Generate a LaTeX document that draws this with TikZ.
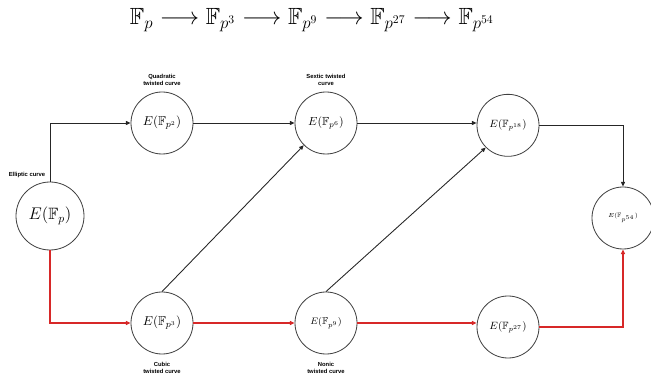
\documentclass[tikz,border=0pt]{standalone}
\usepackage{amssymb}
\usepackage{fontspec}
\setsansfont{Liberation Sans}
\usetikzlibrary{arrows.meta, positioning}

\definecolor{rougelien}{RGB}{215,40,40}

\begin{document}
\begin{tikzpicture}[
  font=\sffamily,
  etat/.style={
    circle,
    draw=black!75,
    line width=0.7pt,
    minimum size=1.86cm,
    inner sep=0pt
  },
  legende/.style={
    font=\sffamily\bfseries\fontsize{5}{6}\selectfont,
    text=black,
    align=center
  },
  lien/.style={
    -{Triangle[length=1.4mm, width=1.2mm]},
    line width=0.75pt,
    draw=black!85
  },
  lienrouge/.style={
    lien,
    line width=0.9pt,
    draw=rougelien
  }
]
\useasboundingbox (0,0) rectangle (19.53,11.31);

% Tour des corps
\node (tour) at (9.36, 10.71) {\fontsize{20}{24}\selectfont
  $\mathbb{F}_p \longrightarrow \mathbb{F}_{p^3} \longrightarrow \mathbb{F}_{p^9}
   \longrightarrow \mathbb{F}_{p^{27}} \longrightarrow \mathbb{F}_{p^{54}}$};

% Courbes
\node[etat, minimum size=2.04cm] (ep) at (1.50, 4.83)
  {\fontsize{14}{16}\selectfont $E(\mathbb{F}_p)$};
\node[etat] (quad) at (4.86, 7.62) {\fontsize{11}{13}\selectfont $E(\mathbb{F}_{p^2})$};
\node[etat] (sext) at (9.78, 7.62) {\fontsize{10}{12}\selectfont $E(\mathbb{F}_{p^6})$};
\node[etat] (e18) at (15.24, 7.55) {\fontsize{9}{11}\selectfont $E(\mathbb{F}_{p^{18}})$};
\node[etat] (e54) at (18.69, 4.77) {\fontsize{5.5}{7}\selectfont $E(\mathbb{F}_{p^{54}})$};
\node[etat] (cubic) at (4.86, 1.62) {\fontsize{11}{13}\selectfont $E(\mathbb{F}_{p^3})$};
\node[etat] (nonic) at (9.78, 1.62) {\fontsize{8.5}{10}\selectfont $E(\mathbb{F}_{p^9})$};
\node[etat] (e27) at (15.24, 1.50) {\fontsize{9}{11}\selectfont $E(\mathbb{F}_{p^{27}})$};

% Légendes
\node[legende] (lellip) at (0.81, 6.06) {Elliptic curve};
\node[legende, above=0.07cm of quad] (lquad) {Quadratic\\twisted curve};
\node[legende, above=0.07cm of sext] (lsext) {Sextic twisted\\curve};
\node[legende, below=0.12cm of cubic] (lcubic) {Cubic\\twisted curve};
\node[legende, below=0.12cm of nonic] (lnonic) {Nonic\\twisted curve};

% Branche haute
\draw[lien] (ep.north) |- (quad.west);
\draw[lien] (quad) -- (sext);
\draw[lien] (sext) -- (sext -| e18.west);
\draw[lien] (e18.east) -| (e54.north);

% Diagonales
\draw[lien] (cubic.north) -- (sext.south west);
\draw[lien] (nonic.north) -- (e18.south west);

% Branche basse
\draw[lienrouge] (ep.south) |- (cubic.west);
\draw[lienrouge] (cubic) -- (nonic);
\draw[lienrouge] (nonic) -- (nonic -| e27.west);
\draw[lienrouge] (e27.east) -| (e54.south);

\end{tikzpicture}
\end{document}
